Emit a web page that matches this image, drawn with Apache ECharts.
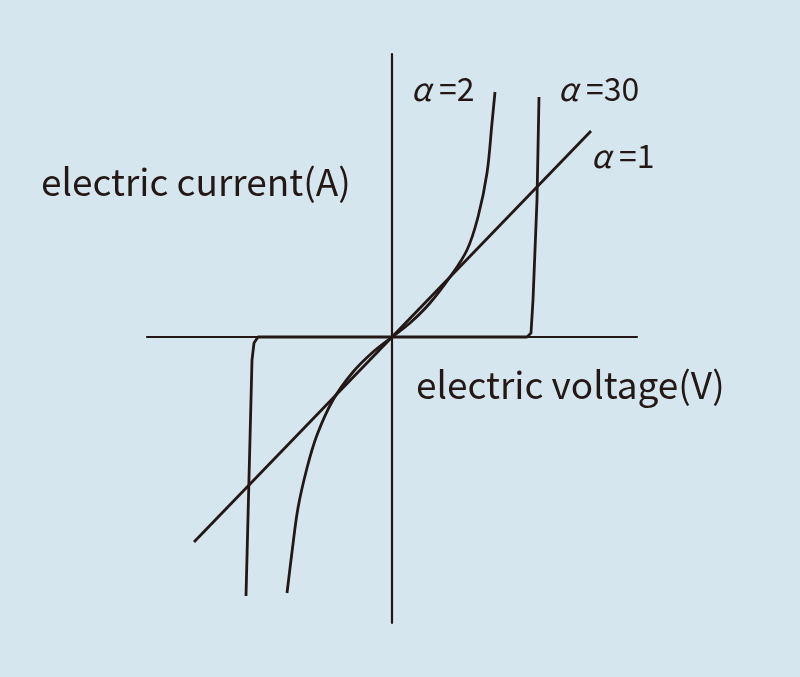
<!DOCTYPE html>
<html>
<head>
<meta charset="utf-8">
<script src="https://cdn.jsdelivr.net/npm/echarts@6/dist/echarts.min.js"></script>
<style>
html,body{margin:0;padding:0;background:#d6e6ef;}
#main{width:800px;height:677px;}
</style>
</head>
<body>
<div id="main"></div>
<script>
// Data (voltage, current), origin at the axes crossing
var alpha1 = [[-198, -205], [199, 206]];
var alpha2 = [[-105, -256], [-100, -215], [-94, -171], [-85, -131], [-75, -98], [-59, -63], [-39, -35], [-19, -15], [0, 0],
              [18, 14], [38, 34], [58, 60], [75, 87], [86, 120], [95, 164], [100, 214], [103, 245]];
var alpha30 = [[-146, -259], [-140, -23], [-138, -6], [-134, 0], [135, 0], [139, 4], [141, 37], [145, 137], [147, 240]];
var xRange = [-245, 245];
var yRange = [-286, 283];
var labels = ['α', '=2', '=30', '=1'];
var axisNames = ['electric current(A)', 'electric voltage(V)'];

var ink = '#231815';
var font = '"Noto Sans CJK JP", "Noto Sans", sans-serif';
var chart = echarts.init(document.getElementById('main'));

function alphaText(suffix) {
  return '{a|' + labels[0] + '}{n|' + suffix + '}';
}
var rich = {
  a: {fontSize: 32, fontStyle: 'italic', fontFamily: font, fill: ink, padding: [0, 8, 0, 0]},
  n: {fontSize: 32, fontFamily: font, fill: ink}
};
function lineSeries(data, smooth) {
  return {
    type: 'line', data: data, smooth: smooth, showSymbol: false, symbol: 'none',
    lineStyle: {color: ink, width: 2.8}, silent: true, animation: false
  };
}

chart.setOption({
  backgroundColor: '#d6e6ef',
  animation: false,
  grid: {left: 147, right: 163, top: 54, bottom: 54},
  xAxis: {
    type: 'value', min: xRange[0], max: xRange[1],
    axisLine: {show: true, onZero: true, lineStyle: {color: ink, width: 2.2}},
    axisTick: {show: false}, axisLabel: {show: false}, splitLine: {show: false}
  },
  yAxis: {
    type: 'value', min: yRange[0], max: yRange[1],
    axisLine: {show: true, onZero: true, lineStyle: {color: ink, width: 2.2}},
    axisTick: {show: false}, axisLabel: {show: false}, splitLine: {show: false}
  },
  series: [
    lineSeries(alpha1, false),
    lineSeries(alpha2, 0.35),
    lineSeries(alpha30, false)
  ],
  graphic: [
    {type: 'text', left: 41, top: 163, style: {text: axisNames[0], font: '37px ' + font, fill: ink}},
    {type: 'text', left: 416, top: 366, style: {text: axisNames[1], font: '37px ' + font, fill: ink}},
    {type: 'text', left: 411, top: 73, style: {text: alphaText(labels[1]), rich: rich}},
    {type: 'text', left: 558, top: 73, style: {text: alphaText(labels[2]), rich: rich}},
    {type: 'text', left: 591, top: 140, style: {text: alphaText(labels[3]), rich: rich}}
  ]
});
</script>
</body>
</html>
